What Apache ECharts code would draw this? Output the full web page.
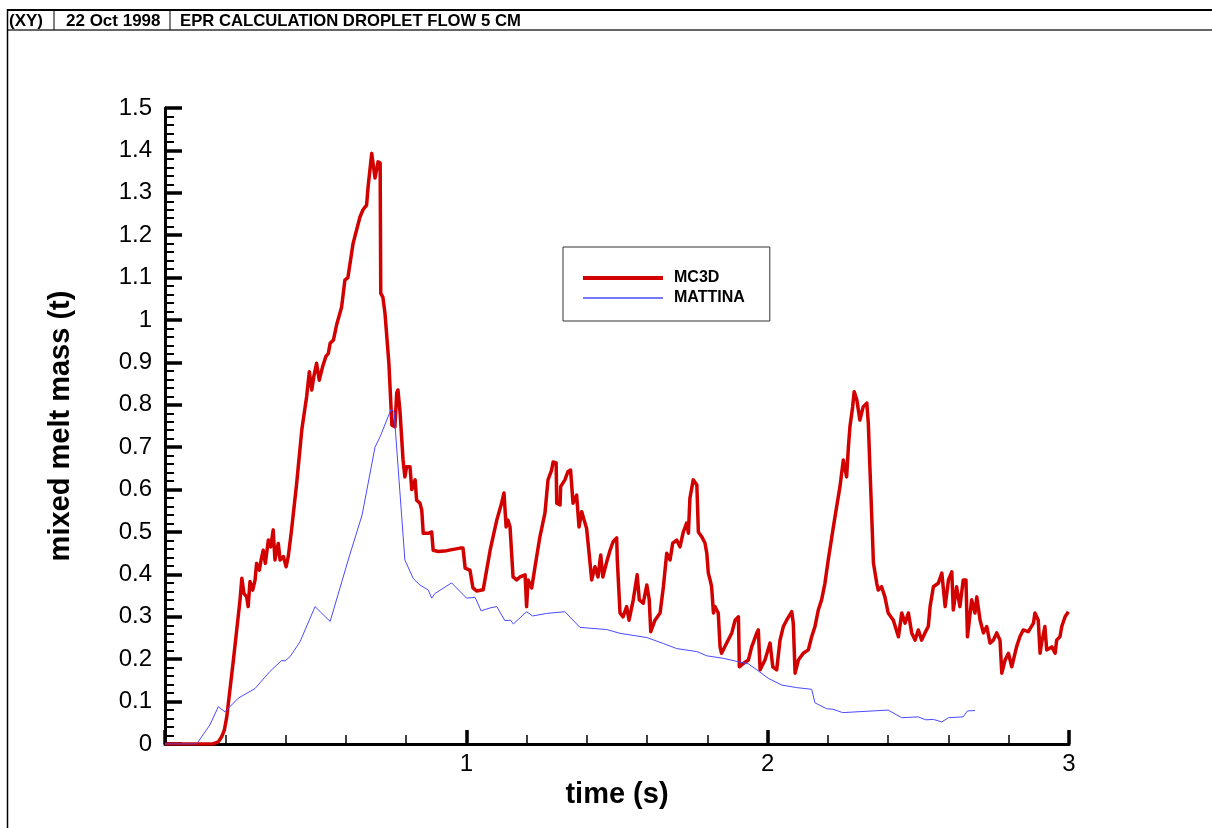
<!DOCTYPE html>
<html>
<head>
<meta charset="utf-8">
<script src="https://cdn.jsdelivr.net/npm/echarts@6/dist/echarts.min.js"></script>
<style>
  html, body { margin: 0; padding: 0; background: #fff; }
  #chart { width: 1212px; height: 828px; }
</style>
</head>
<body>
<div id="chart"></div>
<script>
// Header strip texts
const headerTexts = ['(XY)', '22 Oct 1998', 'EPR CALCULATION DROPLET FLOW 5 CM'];
const seriesNames = ['MC3D', 'MATTINA'];

// Mixed melt mass (t) versus time (s), MC3D calculation
const mc3d = [
  [0,0],[0.159,0],[0.177,0.005],[0.188,0.017],[0.197,0.033],[0.205,0.064],[0.227,0.198],[0.249,0.34],
  [0.255,0.391],[0.262,0.355],[0.271,0.347],[0.276,0.324],[0.282,0.383],[0.291,0.363],[0.299,0.387],
  [0.304,0.426],[0.313,0.41],[0.319,0.434],[0.326,0.457],[0.333,0.426],[0.343,0.481],[0.351,0.465],
  [0.359,0.505],[0.365,0.434],[0.376,0.473],[0.382,0.434],[0.393,0.442],[0.402,0.418],[0.409,0.442],
  [0.420,0.505],[0.437,0.615],[0.454,0.741],[0.470,0.819],[0.479,0.878],[0.487,0.835],[0.494,0.867],
  [0.503,0.898],[0.512,0.858],[0.523,0.89],[0.534,0.914],[0.542,0.921],[0.548,0.945],[0.559,0.953],
  [0.570,0.99],[0.586,1.03],[0.597,1.094],[0.607,1.10],[0.624,1.18],[0.647,1.243],[0.657,1.26],
  [0.669,1.271],[0.674,1.314],[0.686,1.393],[0.690,1.397],[0.697,1.335],[0.707,1.373],[0.714,1.37],
  [0.716,1.063],[0.723,1.054],[0.730,1.016],[0.736,1.02],[0.743,0.898],[0.750,0.795],[0.753,0.752],
  [0.763,0.748],[0.769,0.828],[0.773,0.835],[0.780,0.783],[0.786,0.78],[0.790,0.67],[0.796,0.63],
  [0.802,0.654],[0.813,0.654],[0.819,0.6],[0.830,0.623],[0.835,0.575],[0.846,0.568],[0.852,0.552],
  [0.857,0.497],[0.874,0.497],[0.885,0.5],[0.890,0.457],[0.907,0.454],[0.935,0.456],[0.979,0.462],
  [0.989,0.462],[0.996,0.415],[1.012,0.41],[1.022,0.368],[1.034,0.361],[1.056,0.364],[1.079,0.457],
  [1.101,0.528],[1.117,0.568],[1.125,0.592],[1.132,0.512],[1.138,0.528],[1.145,0.512],[1.155,0.394],
  [1.167,0.387],[1.178,0.394],[1.195,0.399],[1.200,0.324],[1.205,0.387],[1.217,0.368],[1.228,0.418],
  [1.244,0.488],[1.261,0.545],[1.271,0.623],[1.283,0.646],[1.288,0.665],[1.298,0.663],[1.300,0.568],
  [1.311,0.564],[1.313,0.607],[1.327,0.623],[1.337,0.642],[1.346,0.646],[1.350,0.607],[1.354,0.568],
  [1.366,0.587],[1.374,0.512],[1.383,0.548],[1.391,0.528],[1.399,0.509],[1.404,0.474],[1.416,0.387],
  [1.427,0.418],[1.437,0.394],[1.446,0.446],[1.453,0.394],[1.466,0.43],[1.477,0.457],[1.487,0.477],
  [1.499,0.486],[1.501,0.434],[1.510,0.309],[1.520,0.3],[1.532,0.324],[1.540,0.292],[1.554,0.34],
  [1.567,0.399],[1.574,0.34],[1.587,0.332],[1.599,0.375],[1.607,0.34],[1.612,0.265],[1.626,0.292],
  [1.643,0.309],[1.654,0.371],[1.665,0.45],[1.676,0.434],[1.685,0.474],[1.698,0.481],[1.709,0.465],
  [1.720,0.5],[1.731,0.521],[1.737,0.497],[1.742,0.58],[1.753,0.623],[1.765,0.611],[1.770,0.5],
  [1.781,0.489],[1.792,0.474],[1.798,0.45],[1.803,0.403],[1.809,0.387],[1.814,0.371],[1.820,0.309],
  [1.825,0.324],[1.836,0.309],[1.842,0.229],[1.847,0.214],[1.864,0.238],[1.881,0.262],[1.892,0.292],
  [1.903,0.3],[1.906,0.182],[1.919,0.19],[1.936,0.198],[1.947,0.229],[1.964,0.262],[1.969,0.269],
  [1.975,0.175],[1.991,0.198],[2.008,0.238],[2.017,0.182],[2.030,0.175],[2.041,0.245],[2.052,0.277],
  [2.063,0.292],[2.080,0.312],[2.085,0.285],[2.091,0.167],[2.102,0.198],[2.118,0.214],[2.135,0.222],
  [2.146,0.253],[2.157,0.277],[2.168,0.316],[2.179,0.34],[2.190,0.379],[2.201,0.434],[2.218,0.512],
  [2.229,0.56],[2.240,0.607],[2.251,0.67],[2.262,0.63],[2.268,0.701],[2.273,0.748],[2.282,0.795],
  [2.287,0.831],[2.296,0.811],[2.306,0.764],[2.317,0.795],[2.329,0.804],[2.334,0.757],[2.340,0.639],
  [2.345,0.545],[2.351,0.427],[2.362,0.379],[2.367,0.363],[2.378,0.371],[2.389,0.347],[2.400,0.309],
  [2.417,0.292],[2.434,0.253],[2.445,0.309],[2.456,0.285],[2.467,0.309],[2.478,0.262],[2.489,0.245],
  [2.500,0.269],[2.511,0.245],[2.522,0.262],[2.533,0.277],[2.539,0.324],[2.550,0.371],[2.566,0.379],
  [2.578,0.403],[2.589,0.324],[2.600,0.387],[2.611,0.406],[2.616,0.316],[2.627,0.371],[2.638,0.324],
  [2.649,0.387],[2.658,0.387],[2.663,0.253],[2.677,0.34],[2.688,0.309],[2.694,0.347],[2.705,0.292],
  [2.716,0.262],[2.727,0.277],[2.738,0.238],[2.749,0.245],[2.760,0.262],[2.771,0.245],[2.777,0.167],
  [2.788,0.198],[2.799,0.214],[2.810,0.182],[2.826,0.229],[2.837,0.253],[2.848,0.269],[2.865,0.265],
  [2.882,0.285],[2.887,0.309],[2.898,0.292],[2.904,0.214],[2.909,0.238],[2.920,0.277],[2.926,0.222],
  [2.943,0.229],[2.954,0.214],[2.959,0.245],[2.970,0.253],[2.976,0.277],[2.987,0.3],[2.998,0.312]
];

// Mixed melt mass (t) versus time (s), MATTINA calculation
const mattina = [
  [0,0],[0.105,0],[0.149,0.045],[0.177,0.088],[0.199,0.076],[0.243,0.108],[0.299,0.131],[0.348,0.171],
  [0.387,0.197],[0.398,0.196],[0.415,0.206],[0.448,0.241],[0.498,0.324],[0.548,0.289],[0.608,0.434],
  [0.654,0.54],[0.697,0.70],[0.714,0.725],[0.750,0.789],[0.760,0.785],[0.796,0.434],[0.824,0.39],
  [0.846,0.375],[0.874,0.363],[0.885,0.344],[0.896,0.355],[0.951,0.38],[1.001,0.344],[1.029,0.346],
  [1.049,0.314],[1.079,0.321],[1.101,0.324],[1.128,0.291],[1.147,0.292],[1.156,0.283],[1.200,0.312],
  [1.220,0.302],[1.267,0.308],[1.327,0.312],[1.377,0.275],[1.466,0.27],[1.510,0.261],[1.599,0.251],
  [1.654,0.237],[1.698,0.225],[1.765,0.218],[1.798,0.208],[1.853,0.202],[1.903,0.194],[1.936,0.189],
  [1.964,0.175],[2.002,0.155],[2.047,0.139],[2.096,0.133],[2.146,0.129],[2.157,0.097],[2.196,0.083],
  [2.216,0.082],[2.249,0.074],[2.400,0.08],[2.445,0.062],[2.500,0.064],[2.525,0.057],[2.550,0.058],
  [2.578,0.052],[2.600,0.062],[2.649,0.064],[2.663,0.078],[2.688,0.079]
];

const xAxisName = 'time (s)';
const yAxisName = 'mixed melt mass (t)';

const FONT = '"Liberation Sans", Arial, Helvetica, sans-serif';
const RED = '#d30000';
const BLUE = '#4a4aff';
const chart = echarts.init(document.getElementById('chart'), null, { renderer: 'canvas' });

chart.setOption({
  animation: false,
  backgroundColor: '#ffffff',
  textStyle: { fontFamily: FONT },
  grid: { left: 165, right: 143, top: 108, bottom: 84, containLabel: false },
  legend: {
    left: 563, top: 247,
    orient: 'vertical',
    data: [
      { name: seriesNames[0], lineStyle: { color: RED, width: 4 }, itemStyle: { opacity: 0 } },
      { name: seriesNames[1], lineStyle: { color: BLUE, width: 1.5 }, itemStyle: { opacity: 0 } }
    ],
    itemWidth: 80, itemHeight: 20, itemGap: 0,
    padding: [21, 25, 13, 18],
    borderColor: '#333', borderWidth: 1,
    backgroundColor: '#fff',
    selectedMode: false,
    textStyle: { fontFamily: FONT, fontSize: 16, fontWeight: 'bold', color: '#000', lineHeight: 20, padding: [0, 0, 0, 6] }
  },
  xAxis: {
    type: 'value', min: 0, max: 3, interval: 1,
    name: xAxisName, nameLocation: 'middle', nameGap: 31,
    nameTextStyle: { fontFamily: FONT, fontSize: 29, fontWeight: 'bold', color: '#000' },
    axisLine: { show: true, onZero: false, lineStyle: { color: '#000', width: 3 } },
    axisTick: { show: true, inside: true, length: 14, lineStyle: { color: '#000', width: 3.5 } },
    minorTick: { show: true, splitNumber: 5, length: 9, lineStyle: { color: '#000', width: 1.5 } },
    axisLabel: {
      fontFamily: FONT, fontSize: 24, color: '#000', margin: 8,
      formatter: v => (v === 0 ? '' : String(v))
    },
    splitLine: { show: false }
  },
  yAxis: {
    type: 'value', min: 0, max: 1.5, interval: 0.1,
    name: yAxisName, nameLocation: 'middle', nameGap: 90,
    nameTextStyle: { fontFamily: FONT, fontSize: 29, fontWeight: 'bold', color: '#000' },
    axisLine: { show: true, onZero: false, lineStyle: { color: '#000', width: 3 } },
    axisTick: { show: true, inside: true, length: 17, lineStyle: { color: '#000', width: 3.5 } },
    minorTick: { show: true, splitNumber: 5, length: 9, lineStyle: { color: '#000', width: 2 } },
    axisLabel: {
      fontFamily: FONT, fontSize: 24, color: '#000', margin: 13,
      formatter: v => String(+v.toFixed(1))
    },
    splitLine: { show: false }
  },
  series: [
    {
      name: seriesNames[0], type: 'line', data: mc3d,
      symbol: 'none', sampling: null, smooth: false,
      lineStyle: { color: RED, width: 3.5, join: 'round' },
      itemStyle: { color: RED },
      z: 2
    },
    {
      name: seriesNames[1], type: 'line', data: mattina,
      symbol: 'none', smooth: false,
      lineStyle: { color: BLUE, width: 1 },
      itemStyle: { color: BLUE },
      z: 3
    }
  ],
  graphic: [
    { type: 'line', shape: { x1: 7, y1: 10, x2: 1212, y2: 10 }, style: { stroke: '#000', lineWidth: 2 } },
    { type: 'line', shape: { x1: 7, y1: 30, x2: 1212, y2: 30 }, style: { stroke: '#333', lineWidth: 1.5 } },
    { type: 'line', shape: { x1: 7.5, y1: 9, x2: 7.5, y2: 828 }, style: { stroke: '#000', lineWidth: 1.5 } },
    { type: 'line', shape: { x1: 54, y1: 10, x2: 54, y2: 30 }, style: { stroke: '#000', lineWidth: 1 } },
    { type: 'line', shape: { x1: 170, y1: 10, x2: 170, y2: 30 }, style: { stroke: '#000', lineWidth: 1 } },
    { type: 'text', x: 9, y: 21, style: { text: headerTexts[0], font: 'bold 17px ' + FONT, fill: '#000', verticalAlign: 'middle' } },
    { type: 'text', x: 66, y: 21, style: { text: headerTexts[1], font: 'bold 17px ' + FONT, fill: '#000', verticalAlign: 'middle' } },
    { type: 'text', x: 180, y: 21, style: { text: headerTexts[2], font: 'bold 16.7px ' + FONT, fill: '#000', verticalAlign: 'middle' } }
  ]
});
</script>
</body>
</html>
